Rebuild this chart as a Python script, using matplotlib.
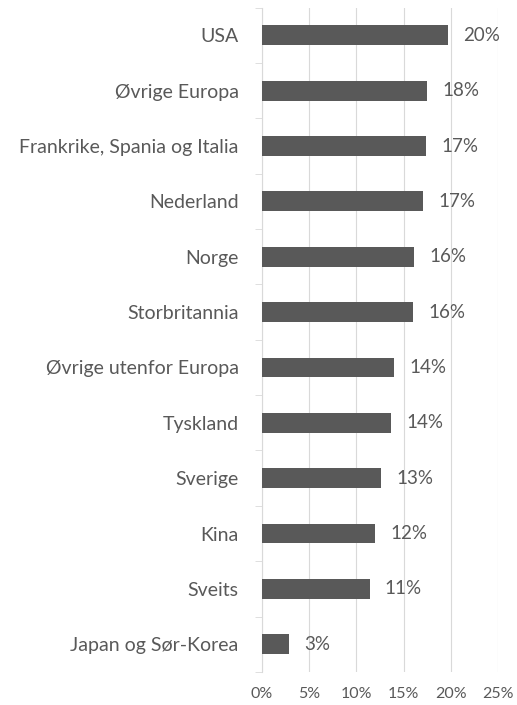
import numpy as np
import matplotlib.pyplot as plt

categories = ["USA", "Øvrige Europa", "Frankrike, Spania og Italia", "Nederland",
              "Norge", "Storbritannia", "Øvrige utenfor Europa", "Tyskland",
              "Sverige", "Kina", "Sveits", "Japan og Sør-Korea"]
values = [19.7, 17.5, 17.4, 17.1, 16.1, 16.0, 14.0, 13.7, 12.6, 12.0, 11.4, 2.9]
labels = ["20%", "18%", "17%", "17%", "16%", "16%", "14%", "14%", "13%", "12%", "11%", "3%"]
xticks = [0, 5, 10, 15, 20, 25]

plt.rcParams['font.family'] = ['Lato', 'DejaVu Sans']
txt = "#595959"

fig = plt.figure(figsize=(5.17, 7.05), dpi=100)
ax = fig.add_axes([0.507, 0.047, 0.456, 0.942])

y = np.arange(len(categories))
ax.barh(y, values, height=0.36, color="#595959", zorder=3)
for yi, v, lab in zip(y, values, labels):
    ax.text(v + 1.6, yi, lab, va="center", ha="left", fontsize=13.5, color=txt)

ax.set_xlim(0, 25)
ax.set_ylim(len(categories) - 0.5, -0.5)
ax.set_xticks(xticks)
ax.set_xticklabels([f"{t}%" for t in xticks], fontsize=11.5, color=txt)
ax.set_yticks(y)
ax.set_yticklabels(categories, fontsize=14, color=txt)
ax.set_yticks(np.arange(-0.5, len(categories), 1), minor=True)
ax.tick_params(axis="y", which="major", length=0, pad=17)
ax.tick_params(axis="y", which="minor", length=5, color="#d9d9d9")
ax.tick_params(axis="x", length=0, pad=11)
ax.grid(axis="x", color="#d9d9d9", linewidth=0.8, zorder=0)
for s in ["top", "right", "bottom"]:
    ax.spines[s].set_visible(False)
ax.spines["left"].set_color("#d9d9d9")

fig.savefig("out.png", dpi=100)
